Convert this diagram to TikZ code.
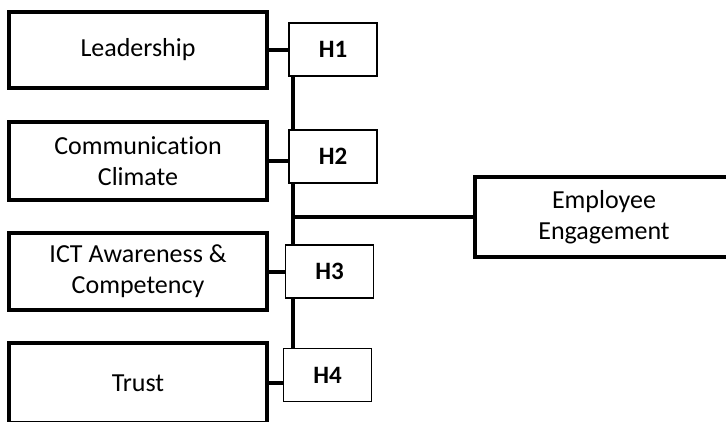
\documentclass[tikz,border=0pt]{standalone}
\usepackage{fontspec}
\setmainfont{Carlito}[Ligatures=NoCommon]
\usepackage{tikz}
\usetikzlibrary{positioning,backgrounds}

\begin{document}
\begin{tikzpicture}[x=1pt,y=-1pt,
    factor/.style={draw,line width=3.5pt,fill=white,minimum width=258pt,minimum height=76pt,
      inner sep=0pt,align=center,font=\fontsize{26}{31}\selectfont},
    hyp/.style={draw,line width=1.2pt,fill=white,minimum width=88pt,minimum height=53pt,
      inner sep=0pt,font=\fontsize{25}{30}\selectfont\bfseries},
    link/.style={line width=4pt}]
  \useasboundingbox (0,0) rectangle (726,421);
  \clip (0,0) rectangle (726,421);
  \node (lead) [factor] at (138,50) {Leadership};
  \node (comm) [factor,minimum height=78pt] at (138,161) {Communication\\Climate};
  \node (ict) [factor,minimum height=77pt] at (138,271.5) {ICT Awareness \&\\Competency};
  \node (trust) [factor,minimum height=80pt] at (138,383) {Trust};
  \node (h1) [hyp] at (333,49.5) {H1};
  \node (h2) [hyp] at (333,156.5) {H2};
  \node (h3) [hyp] at (329.5,271.5) {H3};
  \node (h4) [hyp] at (327.5,375) {H4};
  \node (ee) [factor,minimum height=80pt] at (604,217) {Employee\\Engagement};
  \coordinate (top) at (293,76);
  \coordinate (bot) at (293,348);
  \coordinate (mid) at (293,217);
  \begin{scope}[on background layer]
    \draw[link] (top) -- (bot);
    \draw[link] (lead.east) -- (h1.west |- lead.east);
    \draw[link] (comm.east) -- (h2.west |- comm.east);
    \draw[link] (ict.east) -- (h3.west |- ict.east);
    \draw[link] (trust.east) -- (h4.west |- trust.east);
  \end{scope}
  \draw[link] (mid) -- (ee.west);
\end{tikzpicture}
\end{document}
